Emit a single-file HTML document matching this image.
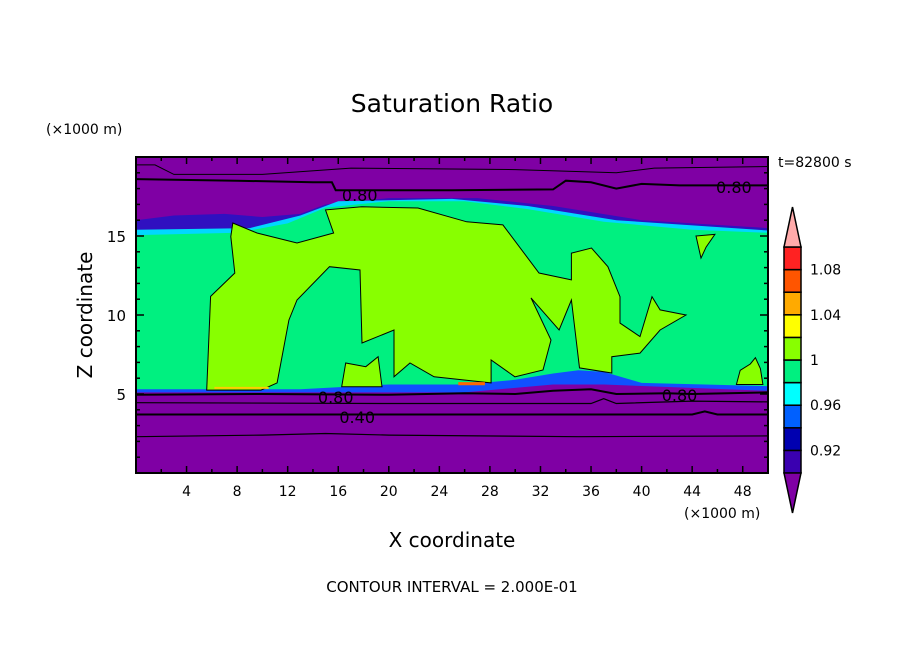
<!DOCTYPE html>
<html><head><meta charset="utf-8"><style>
body{margin:0;background:#fff;}
svg text{font-family:"DejaVu Sans","Liberation Sans",sans-serif;fill:#000;}
</style></head><body>
<svg id="chart" width="904" height="654" viewBox="0 0 904 654" xmlns="http://www.w3.org/2000/svg">
<rect width="904" height="654" fill="#fff"/>
<text x="452" y="112" font-size="25" text-anchor="middle">Saturation Ratio</text>
<text x="46" y="134" font-size="14">(×1000 m)</text>
<text x="778" y="167" font-size="14">t=82800 s</text>
<text x="684" y="518" font-size="14">(×1000 m)</text>
<text transform="translate(92,315) rotate(-90)" font-size="20" text-anchor="middle">Z coordinate</text>
<text x="452" y="547" font-size="20" text-anchor="middle">X coordinate</text>
<text x="452" y="592" font-size="15" text-anchor="middle">CONTOUR INTERVAL = 2.000E-01</text>
<defs><clipPath id="pc"><rect x="136" y="157" width="632" height="316"/></clipPath></defs>
<g id="plot" clip-path="url(#pc)"></g>
<g id="axes"></g>
<g id="cbar"></g>
</svg>
<script>
const xTicks=[4,8,12,16,20,24,28,32,36,40,44,48];
const yTicks=[5,10,15];
const cbLevels=[0.90,0.92,0.94,0.96,0.98,1.00,1.02,1.04,1.06,1.08,1.10];
const cbColors=["#3a00b0","#0000b0","#0060ff","#00ffff","#00f080","#88ff00","#ffff00","#ffaa00","#ff5500","#ff2222"];
const cbLabels=["0.92","0.96","1","1.04","1.08"];
const cbLabelValues=[0.92,0.96,1.00,1.04,1.08];
// region polygons in data units [x km, z km]
const darkBlueBand=[[0,15.1],[0,16.0],[3,16.3],[7,16.4],[10,16.2],[13,16.4],[15,17.0],[20,17.4],[27,17.4],[33,16.9],[40,16.0],[50,15.5],[50,15.1]];
const cyanBand=[[0,15.0],[0,15.4],[9,15.5],[13,16.3],[16,17.2],[25,17.35],[31,16.9],[38,16.0],[50,15.35],[50,15.0]];
const greenRegion=[[0,15.06],[8,15.2],[12,15.8],[15,16.8],[20,17.2],[26,17.2],[31,16.7],[37,15.9],[44,15.4],[50,15.2],[50,5.5],[40,5.7],[37,6.4],[35,6.5],[33,6.3],[30,5.9],[26,5.6],[20,5.6],[13,5.3],[0,5.3]];
const lowerBlueBand=[[0,5.4],[13,5.4],[20,5.7],[26,5.7],[30,6.0],[33,6.4],[35,6.6],[37,6.5],[40,5.8],[50,5.6],[50,5.2],[37,5.6],[33,5.6],[26,5.1],[13,5.1],[0,5.1]];
const limeRegion=[[5.59,5.25],[5.9,11.18],[7.82,12.66],[7.5,14.96],[7.66,15.82],[9.57,15.19],[12.74,14.56],[15.63,15.19],[14.99,16.65],[17.86,16.85],[22.31,16.77],[26.16,15.9],[29.03,15.7],[31.88,12.66],[34.45,12.22],[34.45,13.92],[36.04,14.24],[37.33,13.06],[38.29,11.16],[38.29,9.49],[39.87,8.63],[40.82,11.16],[41.46,10.32],[43.51,10.0],[41.46,9.05],[39.87,7.59],[37.64,7.36],[37.64,6.33],[35.09,6.65],[34.45,10.95],[33.47,9.05],[31.25,11.08],[32.83,8.42],[32.2,6.52],[29.98,6.09],[28.09,7.15],[28.09,5.7],[23.58,6.09],[21.68,6.96],[20.41,6.09],[20.41,9.05],[17.88,8.23],[17.72,12.85],[15.31,13.06],[12.74,10.95],[12.1,9.68],[11.16,5.7],[9.89,5.25]];
const limeFinger=[[16.27,5.46],[16.59,6.96],[18.18,6.73],[19.15,7.36],[19.46,5.46]];
const limeSmall=[[47.5,5.6],[47.8,6.5],[48.6,6.9],[49.0,7.3],[49.4,6.6],[49.6,5.6]];
const limeTopRight=[[44.3,15.0],[45.8,15.1],[45.1,14.3],[44.7,13.6]];
const hotSpot=[[25.5,5.55],[27.6,5.55],[27.6,5.75],[25.5,5.75]];
const hotSpot2=[[6.2,5.32],[10.5,5.32],[10.5,5.45],[6.2,5.45]];
// contour lines
const c080upper=[[0,18.6],[8,18.5],[14,18.4],[15.5,18.4],[15.8,17.9],[25,17.9],[33,17.95],[34,18.5],[36,18.4],[38,18.0],[40,18.3],[43,18.2],[50,18.2]];
const cTopThin=[[0,19.5],[1.5,19.5],[3,18.9],[10,18.9],[17,19.3],[30,19.2],[38,19.0],[41,19.3],[50,19.4]];
const c080lower=[[0,4.95],[10,5.0],[20,4.95],[26,5.05],[30,5.0],[33,5.2],[36,5.3],[38,5.0],[42,5.05],[44,5.0],[50,5.1]];
const cThin1=[[0,4.45],[20,4.4],[36,4.4],[37,4.7],[38,4.4],[44,4.55],[50,4.5]];
const c040=[[0,3.7],[15,3.7],[30,3.7],[44,3.7],[45,3.9],[46,3.7],[50,3.7]];
const cThin2=[[0,2.3],[10,2.4],[15,2.5],[20,2.4],[35,2.3],[50,2.35]];
const contourLabels=[["0.80",17.7,17.6],["0.80",47.3,18.1],["0.80",15.8,4.8],["0.80",43,4.95],["0.40",17.5,3.55]];

const x0=136,x1=768,y0=473,y1=157;
const X=v=>x0+(v/50)*(x1-x0);
const Y=v=>y0-(v/20)*(y0-y1);
const NS="http://www.w3.org/2000/svg";
const plot=document.getElementById('plot'),axes=document.getElementById('axes'),cbar=document.getElementById('cbar');
function mk(tag,parent,attrs){const e=document.createElementNS(NS,tag);for(const k in attrs)e.setAttribute(k,attrs[k]);parent.appendChild(e);return e;}
const pts=a=>a.map(p=>X(p[0]).toFixed(1)+','+Y(p[1]).toFixed(1)).join(' ');

let bg=mk('rect',plot,{x:x0,y:y1,width:x1-x0,height:y0-y1,fill:'#7f00a4'});


const regions=[[darkBlueBand,'#3010c0','upper-blue-band'],[cyanBand,'#00d8ff','upper-cyan-band'],[lowerBlueBand,'#1050ff','lower-blue-band'],[greenRegion,'#00f080','green-region'],[limeRegion,'#88ff00','lime-region'],[limeFinger,'#88ff00','lime-finger'],[limeSmall,'#88ff00','lime-region-right'],[limeTopRight,'#88ff00','lime-region-top'],[hotSpot,'#ff6600','hot-spot'],[hotSpot2,'#ffcc00','hot-spot-left']];
regions.forEach(r=>{
  const e=mk('polygon',plot,{points:pts(r[0]),fill:r[1]});
  
  
  if(r[1]=='#88ff00'){e.setAttribute('stroke','#000');e.setAttribute('stroke-width','1');}
});
const lines=[[c080upper,2,'contour-080-upper'],[cTopThin,1,'contour-top-thin'],[c080lower,2,'contour-080-lower'],[cThin1,1.2,'contour-thin-1'],[c040,2,'contour-040'],[cThin2,1.2,'contour-thin-2']];
lines.forEach(l=>{
  const e=mk('polyline',plot,{points:pts(l[0]),fill:'none',stroke:'#000','stroke-width':l[1]});
  
  
});
contourLabels.forEach(c=>{
  const t=mk('text',plot,{x:X(c[1]),y:Y(c[2])+6,'font-size':16,'text-anchor':'middle'});
  t.textContent=c[0];
  
  
});
let fr=mk('rect',axes,{x:x0,y:y1,width:x1-x0,height:y0-y1,fill:'none',stroke:'#000','stroke-width':2});


for(let v=2;v<50;v+=2){
  const L=(v%4==0)?7:4;
  mk('line',axes,{x1:X(v),x2:X(v),y1:y0,y2:y0-L,stroke:'#000','stroke-width':1.5});
  mk('line',axes,{x1:X(v),x2:X(v),y1:y1,y2:y1+L,stroke:'#000','stroke-width':1.5});
}
for(let v=1;v<20;v++){
  const L=(v%5==0)?8:4;
  mk('line',axes,{x1:x0,x2:x0+L,y1:Y(v),y2:Y(v),stroke:'#000','stroke-width':1.5});
  mk('line',axes,{x1:x1,x2:x1-L,y1:Y(v),y2:Y(v),stroke:'#000','stroke-width':1.5});
}
xTicks.forEach(v=>{
  const t=mk('text',axes,{x:X(v),y:y0+23,'font-size':14,'text-anchor':'middle'});t.textContent=v;
  
  
});
yTicks.forEach(v=>{
  const t=mk('text',axes,{x:x0-10,y:Y(v)+6,'font-size':15,'text-anchor':'end'});t.textContent=v;
  
  
});
const cx0=784,cx1=801,cyB=473,cyT=247;
const CY=v=>cyB-(v-cbLevels[0])/(cbLevels[cbLevels.length-1]-cbLevels[0])*(cyB-cyT);
for(let i=0;i<cbColors.length;i++){
  const e=mk('rect',cbar,{x:cx0,y:CY(cbLevels[i+1]),width:cx1-cx0,height:CY(cbLevels[i])-CY(cbLevels[i+1]),fill:cbColors[i],stroke:'#000','stroke-width':1.5});
  
  
}
let tu=mk('polygon',cbar,{points:`${cx0},${cyT} ${cx1},${cyT} ${(cx0+cx1)/2},207`,fill:'#ffaaaa',stroke:'#000','stroke-width':1.5});


let td=mk('polygon',cbar,{points:`${cx0},${cyB} ${cx1},${cyB} ${(cx0+cx1)/2},513`,fill:'#7f00a4',stroke:'#000','stroke-width':1.5});


cbLabelValues.forEach((v,i)=>{
  const t=mk('text',cbar,{x:810,y:CY(v)+5,'font-size':14});t.textContent=cbLabels[i];
  
  
});
</script>
</body></html>
